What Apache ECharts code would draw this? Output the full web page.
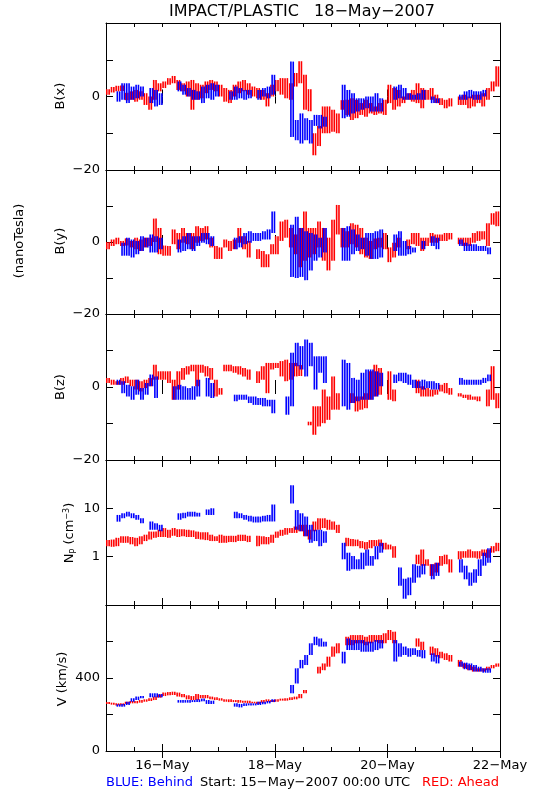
<!DOCTYPE html>
<html><head><meta charset="utf-8">
<script src="https://cdn.jsdelivr.net/npm/echarts@6/dist/echarts.min.js"></script>
<style>html,body{margin:0;padding:0;background:#fff}#c{width:550px;height:800px}</style>
</head><body><div id="c"></div>
<script>
// ---- time axis (hours since 15-May-2007 00:00 UTC), 2-hour bins ----
const BIN_HOURS = 2;
const X_MAX_HOURS = 168;
const MAJOR_HOURS = [24, 72, 120, 168];
const MAJOR_LABELS = ['16−May', '18−May', '20−May', '22−May'];

// ---- each bin: [low, high] of the data cloud, null = no data ----
const BX_AHEAD = [[0.5,2.0],[1.1,2.6],[1.4,2.9],[1.5,3.0],[-1.0,1.0],[-0.9,1.4],[-1.4,1.8],[-0.9,1.4],[-2.3,0.9],[-3.6,0],
[-0.9,4.5],[1.4,3.6],[2.3,4.1],[3.2,5.0],[3.6,5.6],[1.8,4.5],[1.4,3.6],[0,4.1],[-3.6,4.5],[-0.9,3.6],
[-0.5,3.2],[0.9,4.1],[1.8,4.5],[1.4,4.1],[0,3.2],[-1.4,2.3],[-1.8,1.8],[0,3.2],[0.9,4.1],[1.4,4.5],
[0.5,3.6],[0,2.7],[-0.5,2.3],[-0.9,1.8],[-2.7,0.9],[0,3.2],[1.4,4.5],[0.5,5.0],[-0.5,5.0],[-0.9,3.6],
[2.7,6.4],[3.6,9.6],[-3.6,5.9],[-4,2],[-16,-10],[-13.5,-8],[-10,-2.7],[-10,-2.7],[-9.6,-3.6],[-10,-4.6],
[-3.6,-1],[-5,-0.9],[-6.4,-0.5],[-5.9,-0.9],[-5,-1.8],[-5.5,-0.9],[-4.6,-1.8],[-5,-2.7],[-4.6,-1.8],[-5,-0.9],
[-1.8,3.2],[-3.6,2.3],[-2.7,1.8],[-1.8,0],[-0.9,0.9],[-1.4,1.8],[-1.8,3.6],[-3.2,2.3],[-0.9,1.8],[-0.9,2.3],
[-1.8,0.5],[-2.3,-0.5],[-3.2,-0.9],[-2.7,-0.5],null,[-2.3,0],[-2.3,0.5],[-3.2,0],[-2.7,0.5],[-1.8,0.5],
[-2.7,0.9],[-0.9,2.3],[1.4,4.1],[2.7,8.2]];
const BX_BEHIND = [null,null,[-1.4,1.4],[-0.9,3.6],[-1.8,3.6],[-0.9,2.7],[-0.5,3.2],[0,2.7],null,[-1.8,2.3],
[-2.7,1.8],[-2.3,0.9],null,null,null,[1.4,4.1],[0.5,3.2],[0,2.3],[-0.9,1.8],[-0.9,1.4],
[-1.8,2.7],[-0.5,3.2],[-0.9,3.6],[0,3.2],null,null,[-0.9,1.4],[-0.9,2.7],[-0.5,2.3],[-0.9,1.8],
[-0.5,1.8],null,[-0.9,1.8],[0,2.3],[-0.5,2.7],[0.5,5.9],null,null,null,[-11,9.5],
[-11.9,-6.4],[-12.8,-4.6],[-11.9,-5.9],[-12.8,-6.4],[-8,-5],[-8.7,-5],[-8.2,-5.5],null,null,null,
[-5.9,3.2],[-5.5,1.8],[-4.6,0.9],[-4.1,-0.5],[-3.6,-0.5],[-3.2,0],[-4.1,0],[-4.1,0.9],[-4.1,-0.5],null,
null,[-0.9,2.7],[-0.5,3.2],[-0.9,2.3],[-0.9,0.9],[-0.9,0.5],[-0.9,0.9],[-0.9,1.8],null,[-1.8,0],
[-1.8,-0.5],null,null,null,null,[-0.9,0.5],[-0.9,1.4],[-0.5,1.8],[-0.9,1.4],[-0.9,1.4],
[0,1.8],null,null,null];

const BY_AHEAD = [[-2,0],[-1.1,0.7],[-0.6,1.2],[-1.1,0.3],[-1,1],[-1.5,0.3],[-2,1.2],[-2.5,0.7],[-1.5,1.2],[-1.1,1.2],
[0,6.5],[-3.4,3.9],[-3.8,-1],[-3.8,-1.1],[-0.6,3.5],[-2,2.5],[-0.2,3.9],[-0.6,2.5],[-2,2.5],[-0.2,4.4],
[0.3,3.9],[0.7,4.4],[-1.5,1.2],[-4.7,-1.1],[-4.7,-1.5],[-1.5,0.7],[-2.5,0.3],[-2,0.7],[-0.2,3.9],[-2,1.6],
[-4.3,0.3],null,[-4.7,-2],[-7,-2.5],[-7,-3.4],[-3.4,-0.6],[-3.4,1.6],[0.3,5.7],[1.2,6.2],[-1.5,3.9],
[-3.4,2.1],[-7,3.9],[-5.2,8.5],[-4.3,3.9],[-3.4,3.9],[-1.5,5.7],[-5.2,3.9],[-7.9,1.2],[-5.2,6.2],[2.1,10.3],
[-1.5,3.9],[-1.5,3.0],[-0.6,5.2],[-1.5,4.8],[-3.4,3.9],[-4.3,1.2],[-4.7,0.3],[-2,1],[-1.5,1.2],[-2,2.5],
[-5.6,-1.5],[-4.3,-0.2],[-1.5,1.2],null,[-2,0.7],[-0.6,2.5],[-1.1,2.5],[-2.5,1.2],[-1.1,1.2],[-0.2,2.5],
[-0.2,2.1],[0.3,2.1],[0.3,2.5],[0.7,2.5],null,[-0.6,1.2],[-1.1,1.2],[-1.1,1.2],[-0.2,2.5],[0.3,3.0],
[0.7,3.0],[-1.1,5.2],[4.8,8.0],[4.4,8.5]];
const BY_BEHIND = [null,null,null,[-3.8,-0.2],[-3.8,1.2],[-4.3,0.7],[-3.4,0.3],[-2.5,1.6],[-1.5,1.2],[-2.9,2.1],
[-2.9,1.6],[-2,1.2],null,null,null,[-2.9,0.7],[-2.5,1.6],[-2,2.5],[-2.5,1.6],[-1.1,1.6],
[-0.2,2.5],[-0.6,2.5],[-1.1,1.6],null,null,null,null,[-2,1.2],[-1.5,1.6],[-0.6,2.5],
[-0.2,3.0],[0.3,2.5],[0.3,2.5],[0.7,3.0],[0.7,3.5],[2.5,8.5],null,null,null,[-9.7,4.8],
[-10,7],[-9.7,3.9],[-10.6,3.0],[-7.9,2.5],[-5.2,2.1],[-4.3,1.2],[-2.9,3.9],null,null,null,
[-5.2,3.9],[-5.2,4.4],[-3.4,3.5],[-2.5,2.1],[-2,1.2],[-3.8,2.5],[-4.7,2.5],[-4.7,3.0],[-4.3,3.5],null,
null,[-2.5,2.1],[-3.8,3.0],[-3.8,0.3],[-3.4,-1.1],[-2.9,-1.5],null,[-2,0.3],null,[-1.1,1.6],
[-2,1.2],null,null,null,null,[-1.1,0.7],[-2.5,-0.2],[-2.5,-0.6],[-2.5,-0.6],[-2.5,-1.1],
[-2.5,-1.1],[-3.4,-1.5],null,null];

const BZ_AHEAD = [[1.1,2.5],[0.6,2.0],[0.6,1.6],[0.6,2.5],[1.1,2.9],[0.2,2.0],[-0.7,2.0],[-1.2,1.6],[-0.3,2.0],[0.2,2.5],
[2.0,6.1],[2.0,4.3],[2.0,4.3],[1.1,4.3],[-3.5,2.0],[-0.7,4.3],[2.0,5.2],[3.4,5.7],[4.3,6.1],[0.2,6.1],
[3.9,6.1],[2.9,5.7],[2.0,5.2],[-2.6,2.0],[-2.1,-0.3],[4.3,6.1],[4.3,6.1],[3.9,5.7],[3.4,5.7],[2.9,5.2],
[2.0,4.8],null,[1.1,4.3],[2.0,5.7],[-1.7,6.6],[4.8,6.6],[5.2,6.6],[2.9,7.1],[1.6,7.5],[2.0,6.6],
[2.9,6.6],[3,6],null,[-10.5,-9.5],[-13.1,-5.3],[-10.8,-5.3],[-9.9,-0.7],[-9,-2.6],[-6.2,2.9],[-6.2,-1.7],
null,null,[-4.4,-1.7],[-6.7,-2.6],[-6.2,-2.6],[-5.8,-1.7],[-3.5,4.3],[-2.6,6.1],[-2.1,5.2],null,
[-3.5,4.3],[-3.9,-0.7],null,null,null,null,[-1.7,2.0],[-2.6,0.2],[-2.6,-0.3],[-2.6,-0.7],
[-2.1,-0.7],[-1.2,0.6],[-1.7,1.1],[-2.1,-0.3],null,[-2.6,-1.7],[-3.0,-2.1],[-3.5,-2.1],[-3.5,-2.6],[-3.9,-2.6],
null,[-5.3,-0.7],[-3.5,5.7],[-5.8,-1.7]];
const BZ_BEHIND = [null,null,[0.6,2.0],[-1.7,1.6],[-2.6,0.6],[-3.5,0.2],[-2.1,2.0],[-3.5,-0.3],[-2.1,1.1],[0.2,3.4],
[-3.0,2.9],null,null,null,[-3.5,0.2],[-3.5,0.6],[-3.5,0.2],[-3.5,-0.3],[-3.5,0.2],[-2.6,2.0],
null,[-2.6,2.5],[-3.0,1.1],null,null,null,null,[-3.9,-2.1],[-3.5,-2.1],[-3.5,-2.1],
[-4.4,-2.6],[-4.9,-2.6],[-4.9,-3.0],[-5.3,-3.0],[-5.3,-3.5],[-7.2,-3.5],null,null,[-7.6,-2.6],[-5.3,9.4],
[5.7,12.1],[4.8,11.2],[2.9,13.0],[5.7,12.1],[-0.7,8.4],[3.9,8.4],[1.1,8.4],null,null,null,
[-5.3,7.5],[-6.2,6.6],[-4.4,2.5],[-3.9,2.0],[-3.5,3.9],[-3.5,4.8],[-3.5,4.8],[-2.6,4.3],[0.2,3.9],null,
null,[1.1,3.4],[1.6,3.9],[1.1,3.9],[0.6,3.4],[-0.3,2.0],[-0.3,1.6],[-0.7,2.0],[-0.3,1.6],[-0.7,1.6],
[-0.7,1.1],null,null,null,null,[0.6,2.5],[0.6,2.0],[0.6,2.0],[0.6,2.0],[0.6,2.0],
[1.1,2.5],[1.6,3.4],null,null];

const NP_AHEAD = [[1.65,2.2],[1.6,2.26],[1.65,2.45],[1.93,2.64],[1.93,2.64],[1.8,2.55],[1.65,2.45],[1.8,2.64],[2.1,2.85],[2.26,3.3],
[2.45,3.3],[2.55,3.6],[2.55,3.9],[2.45,3.6],[2.7,3.9],[2.55,3.7],[2.64,3.7],[2.55,3.6],[2.55,3.5],[2.33,3.3],
[2.26,3.2],[2.2,3.2],[2.1,2.85],[2.1,2.64],[1.93,2.85],[1.93,2.7],[2.0,2.7],[2.0,2.7],[2.1,2.85],[2.1,2.85],
[2.0,2.7],null,[1.65,2.7],[1.8,2.64],[1.8,2.55],[1.93,2.85],[2.45,3.3],[2.7,3.6],[2.85,3.9],[3.1,3.9],
[3.1,4.2],[3.35,4.55],[2.64,4.55],[2.26,3.6],[3.35,5.35],[3.6,6.2],[3.9,6.2],[3.6,5.8],[3.6,5.35],[3.1,4.55],
null,[1.65,2.45],[1.65,2.33],[1.65,2.26],[1.5,2.1],[1.41,2.0],[1.5,2.2],[1.65,2.2],[1.65,2.26],[1.41,1.93],
[1.41,1.78],[0.95,1.65],null,null,null,null,[0.7,1.1],[0.65,1.41],[0.65,0.88],[0.4,0.7],
[0.47,0.75],[0.65,1.03],[0.7,1.1],[0.47,0.88],null,[0.88,1.3],[0.95,1.3],[0.95,1.41],[0.95,1.3],[0.91,1.3],
[1.03,1.41],[0.95,1.41],[1.21,1.65],[1.3,1.93]];
const NP_BEHIND = [null,null,[5.3,7.3],[6.25,7.9],[6.75,8.5],[6.25,7.9],[5.8,7.3],[4.9,6.25],null,[3.6,5.35],
[3.6,4.9],[3.35,4.55],null,null,null,[5.8,7.9],[6.25,8.1],[6.75,8.5],[6.75,8.5],[6.75,8.1],
null,[7.3,9.5],[7.3,10],null,null,null,null,[6.25,8.5],[6.25,7.9],[5.8,7.3],
[5.35,7.0],[5.1,6.75],[5.1,6.75],[5.35,7.0],[5.35,7.3],[5.35,12],null,null,null,[12.6,30],
[3.6,9.2],[3.35,7.9],[2.64,6.75],[1.93,4.55],[2.1,3.6],[1.65,3.6],[1.93,3.35],null,null,null,
[0.88,1.93],[0.51,1.21],[0.55,1.03],[0.55,0.88],[0.55,1.21],[0.65,1.41],[0.65,1.03],[0.88,1.65],[1.21,1.93],null,
null,null,[0.25,0.6],[0.135,0.35],[0.16,0.37],[0.29,0.7],[0.37,0.65],[0.43,0.7],null,[0.34,0.7],
[0.4,0.75],null,null,null,null,[0.47,0.88],[0.34,0.65],[0.25,0.47],[0.29,0.55],[0.4,0.88],
[0.65,1.21],[0.75,1.5],null,null];

const V_AHEAD = [[258,268],[254,265],[250,261],[250,261],[258,270],[261,274],[261,274],[265,279],[270,283],[274,289],
[279,298],[292,310],[301,320],[305,323],[307,325],[298,320],[294,312],[283,305],[279,301],[279,312],
[289,307],[289,307],[283,298],[279,294],[276,289],[270,283],[268,283],[268,279],[265,279],[265,276],
[261,276],[261,270],[258,270],[265,279],[270,283],[268,279],[270,283],[276,287],[276,289],[279,294],
[283,298],[289,312],[316,334],null,null,[425,462],[443,480],[462,517],[517,572],[535,590],
null,[580,626],[580,635],[590,635],[590,635],[580,626],[590,635],[599,635],[590,635],[590,645],
[608,663],[590,654],null,null,null,null,[572,617],[553,599],null,[526,572],
[517,563],[508,544],[499,535],[490,526],null,[462,499],[453,480],[443,471],[435,462],[435,453],
[435,453],[443,462],[453,471],[462,480]];
const V_BEHIND = [null,null,[243,256],[243,258],[252,270],[270,289],[279,298],[289,301],null,[294,316],
[294,316],[294,312],null,null,null,[265,279],[265,279],[265,279],[268,279],[268,283],
[272,287],[258,279],[258,276],null,null,null,null,[243,261],[239,258],[247,261],
[250,261],[250,261],[252,270],[256,270],[261,274],[268,283],null,null,null,[316,362],
[370,453],[453,499],[471,526],[526,590],[580,626],[572,617],[572,599],null,null,null,
[480,544],[553,617],[553,608],[553,608],[544,608],[544,599],[544,599],[553,608],[562,608],null,
null,[490,608],[517,590],[526,572],[517,563],[526,563],[517,553],[508,553],null,[490,535],
[480,526],null,null,null,null,[462,490],[448,484],[443,480],[435,471],[435,462],
[429,453],[429,453],null,null];

// ---- y tick labels shown ----
const B_TICK_LABELS = [-20, 0];
const NP_TICK_LABELS = [1, 10];
const V_TICK_LABELS = [0, 400];

const COLOR_AHEAD = '#ff0000';
const COLOR_BEHIND = '#0000ff';
const FONT = '"DejaVu Sans", sans-serif';

const fmtNum = v => (v < 0 ? '−' + Math.abs(v) : String(v));

const PANELS = [
  {top: 23,  height: 147, type: 'value', min: -20, max: 20, interval: 10, labels: B_TICK_LABELS, A: BX_AHEAD, B: BX_BEHIND},
  {top: 170, height: 144, type: 'value', min: -20, max: 20, interval: 10, labels: B_TICK_LABELS, A: BY_AHEAD, B: BY_BEHIND},
  {top: 314, height: 146, type: 'value', min: -20, max: 20, interval: 10, labels: B_TICK_LABELS, A: BZ_AHEAD, B: BZ_BEHIND},
  {top: 460, height: 145, type: 'log',   min: 0.1, max: 100, labels: NP_TICK_LABELS, A: NP_AHEAD, B: NP_BEHIND},
  {top: 605, height: 146, type: 'value', min: 0, max: 800, interval: 200, labels: V_TICK_LABELS, A: V_AHEAD, B: V_BEHIND}
];

function toItems(arr) {
  const out = [];
  arr.forEach((v, k) => { if (v) out.push([k * BIN_HOURS + BIN_HOURS / 2, v[0], v[1]]); });
  return out;
}

// each bin is drawn as two thin columns; Ahead and Behind columns interleave
function makeRender(color, phase) {
  return function (params, api) {
    const t = api.value(0), lo = api.value(1), hi = api.value(2);
    const a = api.coord([t - BIN_HOURS / 2, hi]);
    const b = api.coord([t + BIN_HOURS / 2, lo]);
    const w = b[0] - a[0];
    let y = a[1], h = b[1] - a[1];
    if (h < 1.5) { y -= (1.5 - h) / 2; h = 1.5; }
    const cw = w * 0.34;
    const children = [0, 0.5].map(f => ({type: 'rect',
      shape: {x: a[0] + w * (f + phase), y: y, width: cw, height: h}, style: {fill: color}}));
    return {type: 'group', children: children};
  };
}

const grid = [], xAxis = [], yAxis = [], series = [];
const lineStyle = {color: '#000', width: 1};
PANELS.forEach((p, i) => {
  grid.push({left: 106, width: 394, top: p.top, height: p.height, containLabel: false});
  ['bottom', 'top'].forEach(pos => {
    xAxis.push({gridIndex: i, type: 'value', min: 0, max: X_MAX_HOURS, interval: 12, position: pos,
      axisLine: {show: true, onZero: false, lineStyle: lineStyle},
      axisTick: {show: true, inside: true, length: 4, lineStyle: lineStyle},
      axisLabel: {show: false}, splitLine: {show: false}});
    xAxis.push({gridIndex: i, type: 'value', min: 0, max: X_MAX_HOURS, position: pos,
      axisLine: {show: false},
      axisTick: {show: true, inside: true, length: 7, customValues: MAJOR_HOURS, lineStyle: lineStyle},
      axisLabel: {show: pos === 'bottom' && i === PANELS.length - 1, customValues: MAJOR_HOURS,
        formatter: v => MAJOR_LABELS[MAJOR_HOURS.indexOf(v)] || '',
        margin: 8, fontSize: 13, color: '#000', fontFamily: FONT},
      splitLine: {show: false}});
  });
  const yBase = {gridIndex: i, type: p.type, min: p.min, max: p.max, splitLine: {show: false},
    axisLine: {show: true, onZero: false, lineStyle: lineStyle}};
  if (p.type === 'log') yBase.logBase = 10; else yBase.interval = p.interval;
  yAxis.push(Object.assign({}, yBase, {position: 'left',
    axisTick: {show: true, inside: true, length: 7, lineStyle: lineStyle},
    axisLabel: {show: true, margin: 6, fontSize: 13, color: '#000', fontFamily: FONT,
      showMinLabel: true, showMaxLabel: true,
      formatter: v => { const m = p.labels.find(l => Math.abs(l - v) < 1e-6 * Math.max(1, Math.abs(l))); return m === undefined ? '' : fmtNum(m); }}}));
  yAxis.push(Object.assign({}, yBase, {position: 'right',
    axisTick: {show: true, inside: true, length: 7, lineStyle: lineStyle},
    axisLabel: {show: false}}));
  [[p.A, COLOR_AHEAD, 0], [p.B, COLOR_BEHIND, 0.25]].forEach(([arr, color, phase]) => {
    series.push({type: 'custom', xAxisIndex: i * 4, yAxisIndex: i * 2, clip: true,
      renderItem: makeRender(color, phase), encode: {x: 0, y: [1, 2]}, data: toItems(arr),
      silent: true, animation: false});
  });
});

function txt(x, y, text, opts) {
  const o = opts || {};
  return {type: 'text', x: x, y: y, rotation: o.rot || 0, silent: true,
    style: Object.assign({text: text, fill: o.color || '#000', font: (o.size || 13) + 'px ' + FONT,
      align: o.align || 'center', verticalAlign: 'middle',
      textAlign: o.align || 'center', textVerticalAlign: 'middle'}, o.extra || {})};
}

const graphic = [
  txt(302, 12, 'IMPACT/PLASTIC   18−May−2007', {size: 16}),
  txt(20, 241, '(nanoTesla)', {rot: Math.PI / 2}),
  txt(61, 96, 'B(x)', {rot: Math.PI / 2}),
  txt(61, 241, 'B(y)', {rot: Math.PI / 2}),
  txt(61, 387, 'B(z)', {rot: Math.PI / 2}),
  txt(70, 533, 'N{s|P} (cm{u|−3})', {rot: Math.PI / 2, extra: {rich: {
    s: {fontSize: 8, fontFamily: FONT, fill: '#000', padding: [7, 0, 0, 0]},
    u: {fontSize: 8, fontFamily: FONT, fill: '#000', padding: [0, 0, 7, 0]}}}}),
  txt(63, 679, 'V (km/s)', {rot: Math.PI / 2}),
  txt(106, 783, 'BLUE: Behind', {align: 'left', color: COLOR_BEHIND}),
  txt(200, 783, 'Start: 15−May−2007 00:00 UTC', {align: 'left'}),
  txt(499, 783, 'RED: Ahead', {align: 'right', color: COLOR_AHEAD})
];

const chart = echarts.init(document.getElementById('c'), null, {renderer: 'canvas'});
chart.setOption({animation: false, backgroundColor: '#fff', grid, xAxis, yAxis, series, graphic});
</script></body></html>
